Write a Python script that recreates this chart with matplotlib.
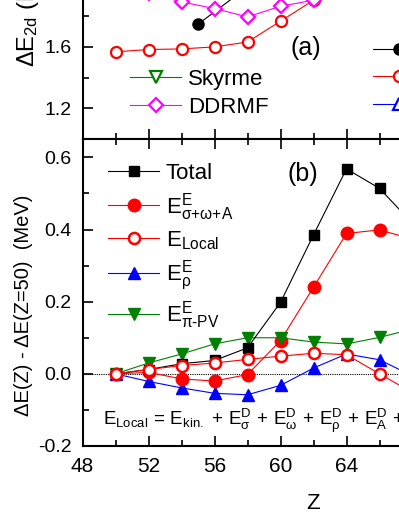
import matplotlib
matplotlib.use('Agg')
import matplotlib.pyplot as plt
from matplotlib.ticker import MultipleLocator

plt.rcParams['font.family'] = ['Liberation Sans', 'DejaVu Sans']
plt.rcParams['mathtext.fontset'] = 'custom'
plt.rcParams['mathtext.rm'] = 'Liberation Sans'
plt.rcParams['mathtext.it'] = 'Liberation Sans:italic'
plt.rcParams['mathtext.bf'] = 'Liberation Sans:bold'
plt.rcParams['axes.unicode_minus'] = False

# panel (a): dE_2d, only the lower part is visible
z_exp = [55, 59]
e2d_exp = [1.747, 2.07]
z_even = [50, 52, 54, 56, 58, 60, 62, 64]
e2d_pka1 = [1.568, 1.583, 1.587, 1.600, 1.632, 1.767, 1.903, 2.05]
e2d_ddrmf = [2.00, 1.95, 1.892, 1.849, 1.795, 1.864, 1.903, 2.00]

# panel (b): dE(Z) - dE(Z=50)
z = [50, 52, 54, 56, 58, 60, 62, 64, 66, 68]
total = [0.0, 0.012, 0.028, 0.037, 0.072, 0.198, 0.385, 0.568, 0.514, 0.417]
e_som = [0.0, 0.004, -0.014, -0.020, -0.002, 0.092, 0.240, 0.389, 0.399, 0.373]
e_local = [0.0, 0.012, 0.023, 0.030, 0.040, 0.049, 0.057, 0.053, 0.0, -0.052]
e_rho = [0.0, -0.021, -0.039, -0.054, -0.058, -0.032, 0.016, 0.055, 0.039, -0.006]
e_pipv = [0.0, 0.030, 0.055, 0.083, 0.100, 0.100, 0.088, 0.083, 0.101, 0.124]

W, H = 399, 516
fx = lambda x: x / W
fy = lambda y: 1 - y / H

fig = plt.figure(figsize=(W / 100, H / 100), dpi=100)

left, right = 82.5, 82.5 + 28 * 16.5
mid, bot = 139.3, 446.0
ax_a = fig.add_axes([fx(left), fy(mid), (right - left) / W, 1.2 * 154 / H])
ax_b = fig.add_axes([fx(left), fy(bot), (right - left) / W, (bot - mid) / H])

for ax in (ax_a, ax_b):
    ax.set_xlim(48, 76)
    ax.xaxis.set_major_locator(MultipleLocator(4))
    ax.xaxis.set_minor_locator(MultipleLocator(2))
    ax.tick_params(which='both', direction='in', top=True, right=True, width=1.2)
    ax.tick_params(which='major', length=7.5, labelsize=14, pad=8)
    ax.tick_params(which='minor', length=4.3)
    for s in ax.spines.values():
        s.set_linewidth(1.5)

# ---- panel (a)
ax_a.set_ylim(1.0, 2.2)
ax_a.yaxis.set_major_locator(MultipleLocator(0.4))
ax_a.yaxis.set_minor_locator(MultipleLocator(0.2))
ax_a.tick_params(labelbottom=False)

h_exp, = ax_a.plot(z_exp, e2d_exp, '-o', color='k', lw=0.8, ms=8, label='Exp.')
h_pka, = ax_a.plot(z_even, e2d_pka1, '-o', color='red', mfc='white', mew=1.6, lw=0.8, ms=8, label='PKA1')
h_ddr, = ax_a.plot(z_even, e2d_ddrmf, '-D', color='magenta', mfc='white', mew=1.6, lw=0.8, ms=7, label='DDRMF')
h_sky, = ax_a.plot([], [], '-v', color='green', mfc='white', mew=1.6, lw=0.8, ms=9, label='Skyrme')
h_pko, = ax_a.plot([], [], '-^', color='blue', mfc='white', mew=1.6, lw=0.8, ms=9, label='PKO1')

leg_kw = dict(bbox_transform=fig.transFigure, frameon=False, fontsize=16, borderpad=0,
              borderaxespad=0, handlelength=2.3, handletextpad=0.3, labelspacing=0.3)
leg1 = ax_a.legend(handles=[h_sky, h_ddr], loc='center left', bbox_to_anchor=(fx(130), fy(93.5)), **leg_kw)
ax_a.add_artist(leg1)
ax_a.legend(handles=[h_exp, h_pka, h_pko], loc='center left', bbox_to_anchor=(fx(373), fy(78.5)), **leg_kw)
ax_a.text(fx(306), fy(48), '(a)', transform=fig.transFigure, ha='center', va='center', fontsize=18)
fig.text(fx(28), fy(67), r'$\mathregular{ΔE_{2d}}$ (MeV)', rotation=90, ha='center', va='bottom', fontsize=17)

# ---- panel (b)
ax_b.set_ylim(-0.2, 0.65)
ax_b.yaxis.set_major_locator(MultipleLocator(0.2))
ax_b.yaxis.set_minor_locator(MultipleLocator(0.1))
ax_b.tick_params(axis='x', labelsize=15)
ax_b.axhline(0, color='k', ls=(0, (1, 1)), lw=0.8, zorder=1)

hb_rho, = ax_b.plot(z, e_rho, '-^', color='blue', lw=0.8, ms=9, zorder=2, label=r'$\mathregular{E^{E}_{ρ}}$')
hb_som, = ax_b.plot(z, e_som, '-o', color='red', lw=0.8, ms=9, zorder=3,
                    label=r'$\mathregular{E^{E}_{σ{+}ω{+}A}}$')
hb_pi, = ax_b.plot(z, e_pipv, '-v', color='green', lw=0.8, ms=9, zorder=4, label=r'$\mathregular{E^{E}_{π‐PV}}$')
hb_tot, = ax_b.plot(z, total, '-s', color='k', lw=0.8, ms=7, zorder=5, label='Total')
hb_loc, = ax_b.plot(z, e_local, '-o', color='red', mfc='white', mew=1.8, lw=0.8, ms=8, zorder=6,
                    label=r'$\mathregular{E_{Local}}$')

ax_b.legend(handles=[hb_tot, hb_som, hb_loc, hb_rho, hb_pi], loc='upper left',
            bbox_to_anchor=(fx(108), fy(163)), bbox_transform=fig.transFigure, frameon=False,
            fontsize=16, borderpad=0, borderaxespad=0, handlelength=2.3, handletextpad=0.3,
            labelspacing=0.3)
ax_b.text(fx(303), fy(174), '(b)', transform=fig.transFigure, ha='center', va='center', fontsize=18)
ax_b.text(fx(103), fy(425),
          r'$\mathregular{E_{Local}\,=\,E_{kin.}\,+\,E^D_{σ}\,+\,E^D_{ω}\,+\,E^D_{ρ}\,+\,E^D_{A}\,+\,E^D_{π‐PV}}$',
          transform=fig.transFigure, ha='left', va='baseline', fontsize=13.5)

ax_b.set_xlabel('Z', fontsize=16, labelpad=12)
ax_b.set_ylabel('ΔE(Z) - ΔE(Z=50)  (MeV)', fontsize=14.5)
ax_b.yaxis.set_label_coords((33 - left) / (right - left), (bot - 305) / (bot - mid))

fig.savefig('out.png', dpi=100)
